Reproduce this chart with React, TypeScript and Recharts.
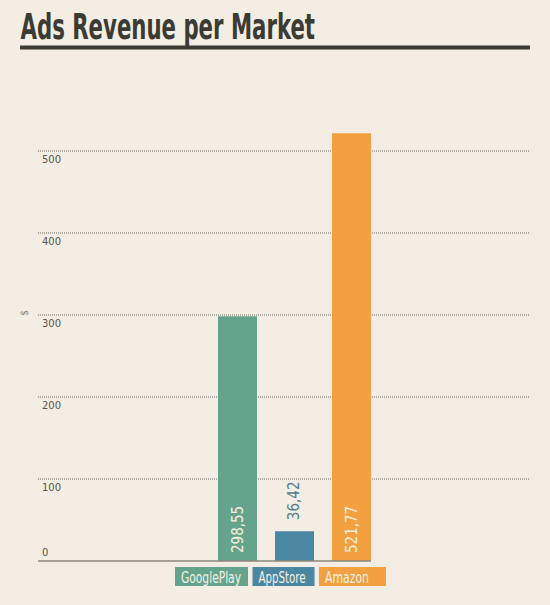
import React from 'react'
import {
  BarChart,
  Bar,
  XAxis,
  YAxis,
  CartesianGrid,
  Cell,
  LabelList,
  Legend,
  ReferenceLine,
  Label,
} from 'recharts'

// chart values
const markets = ['GooglePlay', 'AppStore', 'Amazon']
const revenue = [298.55, 36.42, 521.77]
const valueLabels = ['298,55', '36,42', '521,77']
const marketColors = ['#64a48c', '#4a87a0', '#f2a040']
const yTicks = [0, 100, 200, 300, 400, 500]
const gridValues = [100, 200, 300, 400, 500]

const data = markets.map((m, i) => ({ market: m, revenue: revenue[i], label: valueLabels[i] }))

const BG = '#f3ede3'
const INK = '#3b3a33'
const NARROW = "'DejaVu Sans Condensed', 'DejaVu Sans', sans-serif"
const PLOT_LEFT = 38
const BAR = 39
// legend box widths (px) and text widths inside them
const legendBox = [73, 62, 67]
const legendText = [60, 47, 44]

const renderYTick = ({ y, payload }: any) => (
  <text
    x={PLOT_LEFT + 4}
    y={payload.value === 0 ? y - 5 : y + 12}
    fontSize={10}
    fill='#5a5650'
    fontFamily="'DejaVu Sans', sans-serif"
  >
    {payload.value}
  </text>
)

const renderValue = (props: any) => {
  const { x, y, width, height, index } = props
  const cx = x + width / 2
  const inside = height > 50
  const sy = inside ? y + height - 8 : y - 11
  return (
    <text
      x={cx}
      y={sy}
      transform={`rotate(-90 ${cx} ${sy})`}
      textAnchor='start'
      dominantBaseline='central'
      fontSize={15}
      fontFamily={NARROW}
      fill={inside ? '#f4eedf' : '#4f7e8e'}
    >
      {valueLabels[index]}
    </text>
  )
}

const renderLegend = () => {
  let cursor = 0
  return (
    <svg width={220} height={20}>
      {markets.map((m, i) => {
        const bx = cursor
        cursor += legendBox[i] + 4.5
        return (
          <g key={m}>
            <rect x={bx} y={0} width={legendBox[i]} height={19} fill={marketColors[i]} />
            <text
              x={bx + 6}
              y={10}
              dominantBaseline='central'
              fontSize={16}
              fontFamily={NARROW}
              fill='#f6f1e6'
              textLength={legendText[i]}
              lengthAdjust='spacingAndGlyphs'
            >
              {m}
            </text>
          </g>
        )
      })}
    </svg>
  )
}

export default function App() {
  return (
    <div
      style={{
        position: 'absolute',
        top: 0,
        left: 0,
        width: 550,
        height: 605,
        background: BG,
        overflow: 'hidden',
      }}
    >
      <svg width={550} height={60} style={{ position: 'absolute', top: 0, left: 0 }}>
        <text
          x={20.5}
          y={39.3}
          fontSize={36}
          fontWeight='bold'
          fontFamily={NARROW}
          fill={INK}
          textLength={294.5}
          lengthAdjust='spacingAndGlyphs'
        >
          Ads Revenue per Market
        </text>
        <rect x={20} y={45.5} width={510} height={4} fill={INK} />
      </svg>
      <div style={{ position: 'absolute', top: 0, left: 0 }}>
        <BarChart
          width={550}
          height={605}
          data={data}
          margin={{ top: 69, right: 20, bottom: 44, left: 0 }}
        >
          <CartesianGrid
            vertical={false}
            horizontalValues={gridValues}
            stroke='#6f6a62'
            strokeDasharray='1 1'
          />
          <XAxis dataKey='market' hide padding={{ left: 171, right: 150 }} />
          <YAxis
            width={PLOT_LEFT}
            domain={[0, 600]}
            ticks={yTicks}
            axisLine={false}
            tickLine={false}
            tick={renderYTick}
          >
            <Label
              content={() => (
                <text
                  x={28}
                  y={313}
                  transform='rotate(-90 28 313)'
                  textAnchor='middle'
                  fontSize={10}
                  fill='#8a857c'
                >
                  $
                </text>
              )}
            />
          </YAxis>
          <ReferenceLine
            segment={[
              { x: 'GooglePlay', y: 0 },
              { x: 'Amazon', y: 0 },
            ]}
            shape={(p: any) => (
              <line x1={PLOT_LEFT} y1={p.y1} x2={p.x2 + BAR / 2} y2={p.y2} stroke='#8c877e' strokeWidth={1.5} />
            )}
          />
          <Bar dataKey='revenue' barSize={BAR} isAnimationActive={false}>
            {data.map((d, i) => (
              <Cell key={d.market} fill={marketColors[i]} />
            ))}
            <LabelList dataKey='label' content={renderValue} />
          </Bar>
          <Legend
            verticalAlign='middle'
            content={renderLegend}
            wrapperStyle={{ top: 567, left: 175, width: 'auto', lineHeight: 0 }}
          />
        </BarChart>
      </div>
    </div>
  )
}
